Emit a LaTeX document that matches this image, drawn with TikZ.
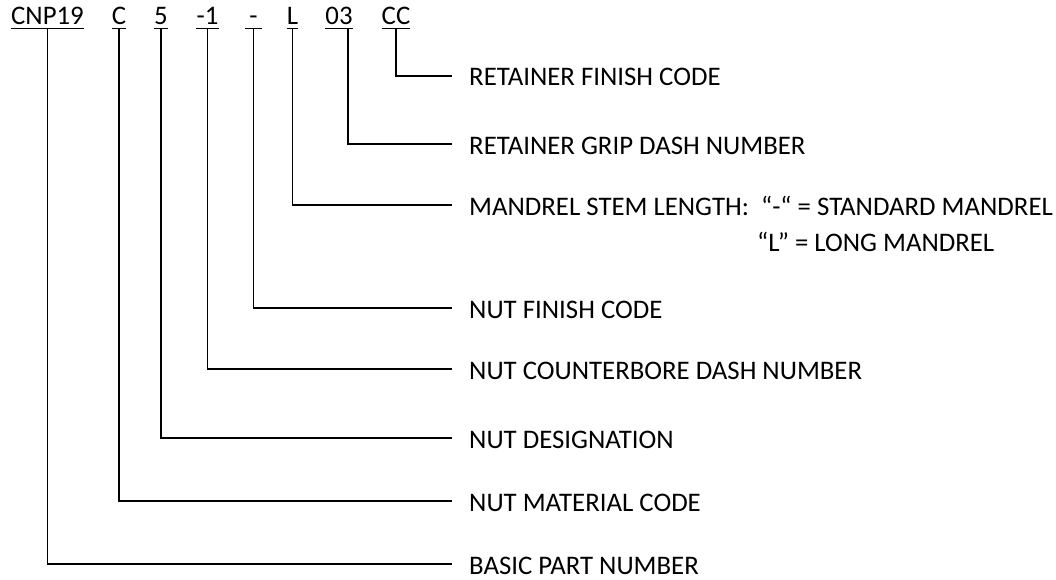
\documentclass[tikz,border=0pt]{standalone}
\usepackage{fontspec}
\setmainfont{Carlito}
\usepackage{tikz}

\tikzset{
	code/.style={inner sep=0pt, anchor=base, font=\fontsize{26.8}{32}\selectfont},
	desc/.style={anchor=west, inner xsep=17pt, inner ysep=0pt, text height=20pt, text depth=0pt, font=\fontsize{26.8}{32}\selectfont},
	lead/.style={line width=1.3pt}
}

\begin{document}
\begin{tikzpicture}[x=1pt, y=-1pt]
	\useasboundingbox (0,0) rectangle (1056,580);
	% part number fields
	\node[code] (cnp) at (47.5,25) {CNP19};
	\node[code] (mat) at (119,25) {C};
	\node[code] (des) at (161,25) {5};
	\node[code] (cbore) at (207.5,25) {-1};
	\node[code, minimum width=17pt] (nfin) at (253.5,25) {-};
	\node[code] (stem) at (292.5,25) {L};
	\node[code] (grip) at (339,25) {03};
	\node[code] (rfin) at (396,25) {CC};
	\foreach \n in {cnp,mat,des,cbore,nfin,stem,grip,rfin}
		\draw[lead] ([yshift=-3.5pt]\n.base west) -- ([yshift=-3.5pt]\n.base east);
	% descriptions
	\node[desc] (lrfin) at (452,76) {RETAINER FINISH CODE};
	\node[desc] (lgrip) at (452,144) {RETAINER GRIP DASH NUMBER};
	\node[desc] (lstem) at (452,205) {MANDREL STEM LENGTH:~ “-“ = STANDARD MANDREL};
	\node[code, anchor=base west] (lstem2) at (757,251) {“L” = LONG MANDREL};
	\node[desc] (lnfin) at (452,308) {NUT FINISH CODE};
	\node[desc] (lcbore) at (452,369) {NUT COUNTERBORE DASH NUMBER};
	\node[desc] (ldes) at (452,438) {NUT DESIGNATION};
	\node[desc] (lmat) at (452,501) {NUT MATERIAL CODE};
	\node[desc] (lcnp) at (452,564) {BASIC PART NUMBER};
	% leaders
	\draw[lead] ([yshift=-3.5pt]rfin.base) |- (lrfin.west);
	\draw[lead] ([xshift=9pt,yshift=-3.5pt]grip.base) |- (lgrip.west);
	\draw[lead] ([yshift=-3.5pt]stem.base) |- (lstem.west);
	\draw[lead] ([yshift=-3.5pt]nfin.base) |- (lnfin.west);
	\draw[lead] ([yshift=-3.5pt]cbore.base) |- (lcbore.west);
	\draw[lead] ([yshift=-3.5pt]des.base) |- (ldes.west);
	\draw[lead] ([yshift=-3.5pt]mat.base) |- (lmat.west);
	\draw[lead] ([yshift=-3.5pt]cnp.base) |- (lcnp.west);
\end{tikzpicture}
\end{document}
